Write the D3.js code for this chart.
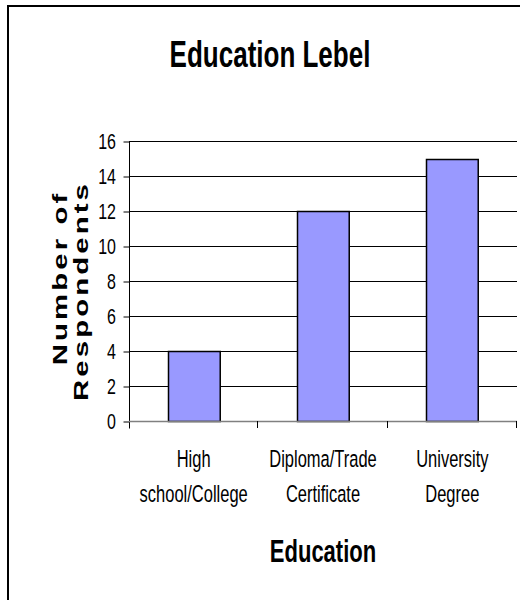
<!DOCTYPE html>
<html lang="en">
<head>
    <meta charset="UTF-8">
    <title>Education Lebel</title>
    <script src="https://d3js.org/d3.v7.min.js"></script>
    <style>
        body { margin: 0; background: #fff; }
        svg { display: block; font-family: "Liberation Sans", Arial, sans-serif; }
    </style>
</head>
<body>
    <div id="chart"></div>

    <script>
        // values
        const categories = ["High school/College", "Diploma/Trade Certificate", "University Degree"];
        const categoryLines = [["High", "school/College"], ["Diploma/Trade", "Certificate"], ["University", "Degree"]];
        const respondents = [4, 12, 15];
        const yTicks = [0, 2, 4, 6, 8, 10, 12, 14, 16];

        const W = 520, H = 600;
        const sy = 1.4; // the original text is stretched vertically

        const svg = d3.select("#chart").append("svg")
            .attr("width", W).attr("height", H);

        // outer frame (cropped at right/bottom)
        svg.append("rect")
            .attr("x", 8).attr("y", 6)
            .attr("width", 700).attr("height", 800)
            .attr("fill", "none").attr("stroke", "#000").attr("stroke-width", 2);

        const plot = { left: 129, right: 517, top: 141, bottom: 421 };

        const x = d3.scaleBand()
            .domain(categories)
            .range([plot.left, plot.right])
            .paddingInner(0.6)
            .paddingOuter(0.3);

        const y = d3.scaleLinear()
            .domain([0, 16])
            .range([plot.bottom, plot.top]);

        // helper for vertically stretched text
        function label(px, py, str, size, weight, anchor, rot) {
            const g = svg.append("g")
                .attr("transform", `translate(${px},${py}) scale(1,${sy})` + (rot ? ` rotate(${rot})` : ""));
            return g.append("text")
                .attr("text-anchor", anchor || "middle")
                .attr("font-size", size)
                .attr("font-weight", weight || "normal")
                .attr("fill", "#000")
                .text(str);
        }

        // gridlines
        svg.append("g").selectAll("line")
            .data(yTicks.filter(d => d > 0))
            .enter().append("line")
            .attr("x1", plot.left).attr("x2", plot.right)
            .attr("y1", d => Math.round(y(d)) + 0.5).attr("y2", d => Math.round(y(d)) + 0.5)
            .attr("stroke", "#000").attr("stroke-width", 1);

        // bars
        svg.append("g").selectAll("rect")
            .data(respondents)
            .enter().append("rect")
            .attr("x", (d, i) => Math.round(x(categories[i])) + 0.5)
            .attr("y", d => Math.round(y(d)) + 0.5)
            .attr("width", x.bandwidth())
            .attr("height", d => Math.round(y(0)) - Math.round(y(d)))
            .attr("fill", "#9999ff")
            .attr("stroke", "#000").attr("stroke-width", 1.5);

        // y axis
        const yAxis = svg.append("g")
            .attr("transform", `translate(${plot.left + 0.5},0.5)`)
            .call(d3.axisLeft(y).tickValues(yTicks).tickSize(6).tickFormat(""));
        yAxis.select(".domain").attr("d", `M0,${plot.top}V${plot.bottom + 7}`);
        yAxis.selectAll("line").attr("stroke", "#000");

        yTicks.forEach(t => {
            label(plot.left - 13, y(t), t, 16, "normal", "end").attr("dy", "0.36em");
        });

        // x axis (baseline + ticks at category boundaries)
        const bounds = d3.range(categories.length + 1).map(i => plot.left + i * (plot.right - plot.left) / categories.length);
        svg.append("line")
            .attr("x1", plot.left).attr("x2", plot.right)
            .attr("y1", plot.bottom + 0.5).attr("y2", plot.bottom + 0.5)
            .attr("stroke", "#808080").attr("stroke-width", 1.5);
        svg.append("g").selectAll("line")
            .data(bounds.slice(1))
            .enter().append("line")
            .attr("x1", d => Math.round(d) - 0.5).attr("x2", d => Math.round(d) - 0.5)
            .attr("y1", plot.bottom).attr("y2", plot.bottom + 7)
            .attr("stroke", "#000");

        // category labels
        categories.forEach((c, i) => {
            const cx = x(c) + x.bandwidth() / 2;
            categoryLines[i].forEach((ln, j) => {
                label(cx, 467 + j * 35, ln, 16.5);
            });
        });

        // titles
        label(270, 67, "Education Lebel", 26, "bold");
        label((plot.left + plot.right) / 2, 562, "Education", 22, "bold");

        // y axis title, two lines, letter-spaced
        label(67, 278, "Number of", 21, "bold", "middle", -90)
            .attr("letter-spacing", 2.2);
        label(88, 291, "Respondents", 21, "bold", "middle", -90)
            .attr("letter-spacing", 2.2);
    </script>
</body>
</html>
